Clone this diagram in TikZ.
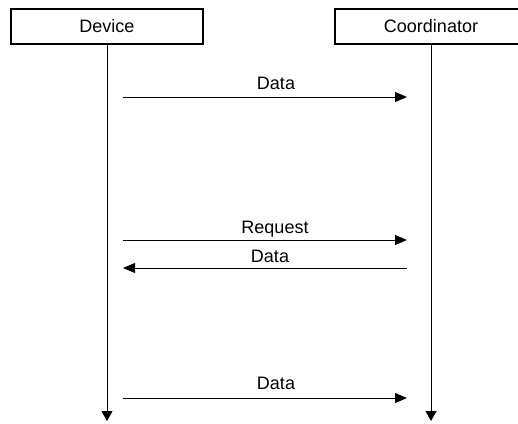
\documentclass[tikz,border=0pt]{standalone}
\usepackage{fontspec}
\setmainfont{Liberation Sans}
\usetikzlibrary{arrows.meta}
\begin{document}
\begin{tikzpicture}[x=1pt,y=-1pt,
  actor/.style={draw, line width=2pt, minimum width=192pt, minimum height=35pt, inner sep=0pt, font=\fontsize{18}{20}\selectfont},
  life/.style={line width=1pt, -{Triangle[length=10pt,width=11pt]}},
  msg/.style={line width=1pt, -{Triangle[length=12pt,width=10pt]}},
  lbl/.style={font=\fontsize{18}{20}\selectfont, anchor=base, inner sep=0pt}]
\useasboundingbox (0,0) rectangle (518,423);
\clip (0,0) rectangle (518,423);
% actors
\node[actor] (dev) at (107,26.5) {Device};
\node[actor] (coord) at (431,26.5) {Coordinator};
% lifeline ends
\coordinate (devend) at (107,421);
\coordinate (coordend) at (431,421);
\draw[life] (dev.south) -- (devend);
\draw[life] (coord.south) -- (coordend);
% message end points
\coordinate (d1) at (123,97);  \coordinate (c1) at (407,97);
\coordinate (d2) at (123,240); \coordinate (c2) at (407,240);
\coordinate (d3) at (123,268); \coordinate (c3) at (407,268);
\coordinate (d4) at (123,398); \coordinate (c4) at (407,398);
\draw[msg] (d1) -- (c1);
\draw[msg] (d2) -- (c2);
\draw[msg] (c3) -- (d3);
\draw[msg] (d4) -- (c4);
% labels
\node[lbl] (l1) at (276,89) {Data};
\node[lbl] (l2) at (275,233) {Request};
\node[lbl] (l3) at (270,262) {Data};
\node[lbl] (l4) at (276,389) {Data};
\end{tikzpicture}
\end{document}
